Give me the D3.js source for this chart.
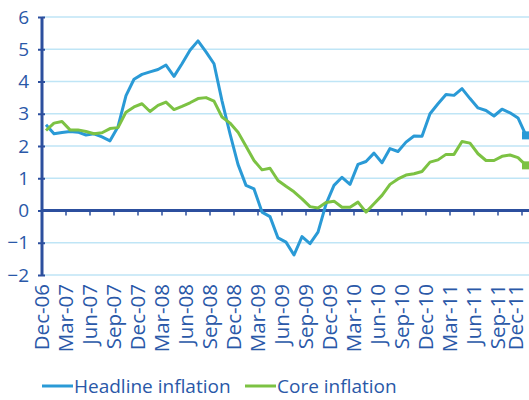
<!DOCTYPE html>
<html>
<head>
<meta charset="utf-8">
<script src="https://cdn.jsdelivr.net/npm/d3@7"></script>
<style>
  body { margin: 0; background: #fff; }
  svg { display: block; font-family: "Open Sans", sans-serif; }
</style>
</head>
<body>
<svg></svg>
<script>
// monthly data, Dec-06 .. Dec-11
const months = d3.range(61).map(i => d3.timeMonth.offset(new Date(2006, 11, 1), i));

const headline = [2.66, 2.38, 2.42, 2.45, 2.43, 2.34, 2.38, 2.28, 2.16, 2.6,
  3.56, 4.07, 4.22, 4.3, 4.37, 4.51, 4.16, 4.55, 4.97, 5.26,
  4.92, 4.55, 3.4, 2.38, 1.43, 0.78, 0.67, -0.05, -0.19, -0.85,
  -0.98, -1.38, -0.81, -1.03, -0.67, 0.2, 0.78, 1.03, 0.81, 1.43,
  1.52, 1.78, 1.48, 1.92, 1.83, 2.12, 2.31, 2.3, 3.0, 3.31,
  3.6, 3.57, 3.78, 3.47, 3.18, 3.1, 2.93, 3.14, 3.03, 2.87, 2.33];

const core = [2.48, 2.71, 2.76, 2.5, 2.5, 2.45, 2.38, 2.41, 2.54, 2.57,
  3.05, 3.21, 3.31, 3.07, 3.26, 3.36, 3.13, 3.23, 3.34, 3.47,
  3.5, 3.39, 2.9, 2.71, 2.43, 1.99, 1.55, 1.26, 1.31, 0.93,
  0.75, 0.58, 0.36, 0.12, 0.08, 0.25, 0.29, 0.1, 0.1, 0.26,
  -0.05, 0.21, 0.47, 0.81, 0.98, 1.1, 1.14, 1.21, 1.5, 1.57,
  1.74, 1.74, 2.14, 2.09, 1.76, 1.55, 1.55, 1.68, 1.72, 1.64, 1.4];

const yTicks = [-2, -1, 0, 1, 2, 3, 4, 5, 6];

const series = [
  { name: "Headline inflation", values: headline, color: "#2a9ad6" },
  { name: "Core inflation", values: core, color: "#7cc243" }
];

const width = 529, height = 400;
const textColor = "#2a58a8";
const axisColor = "#2c4f9e";
const gridColor = "#bfe5f6";

const svg = d3.select("svg").attr("width", width).attr("height", height);

// category band scale: each month is one slot, 8px wide
const x = d3.scaleBand().domain(months).range([42, 530]).paddingInner(0);
const y = d3.scaleLinear().domain([-2, 6]).range([275, 17]);

// gridlines
svg.append("g")
  .selectAll("line")
  .data(yTicks.filter(d => d !== 0))
  .join("line")
  .attr("x1", 42).attr("x2", width)
  .attr("y1", d => y(d)).attr("y2", d => y(d))
  .attr("stroke", gridColor).attr("stroke-width", 1.5);

// y axis
const yAxis = svg.append("g")
  .attr("transform", "translate(42,0)")
  .call(d3.axisLeft(y).tickValues(yTicks).tickSize(4).tickPadding(9)
    .tickFormat(d3.format("d")));
yAxis.select(".domain").attr("stroke", axisColor).attr("stroke-width", 3)
  .attr("d", `M0,${y(6)}V${y(-2)}`);
yAxis.selectAll(".tick line").attr("stroke", axisColor).attr("stroke-width", 2)
  .attr("x1", 3);
yAxis.selectAll(".tick text").attr("fill", textColor)
  .style("font-size", "19px").style("font-family", "Open Sans, sans-serif");

// zero line with quarterly ticks
const quarterStarts = months.filter((d, i) => i % 3 === 0);
const xAxis = svg.append("g")
  .attr("transform", `translate(0,${y(0)})`)
  .call(d3.axisBottom(x).tickValues(quarterStarts).tickSize(5).tickFormat(""));
xAxis.select(".domain").attr("stroke", axisColor).attr("stroke-width", 3)
  .attr("d", `M42,0H${width}`);
xAxis.selectAll(".tick")
  .attr("transform", d => `translate(${x(d)},0)`);
xAxis.selectAll(".tick line").attr("stroke", axisColor).attr("stroke-width", 1.5);

// category labels, rotated
const fmt = d3.timeFormat("%b-%y");
svg.append("g")
  .selectAll("text")
  .data(quarterStarts)
  .join("text")
  .attr("transform", d => `translate(${Math.min(x(d), 516)},284) rotate(-90)`)
  .attr("text-anchor", "end")
  .attr("dy", "0.36em")
  .attr("fill", textColor)
  .style("font-size", "20.5px")
  .text(d => fmt(d));

// lines
const line = d3.line()
  .x((d, i) => x(months[i]) + x.bandwidth() / 2)
  .y(d => y(d));

svg.append("g")
  .selectAll("path")
  .data(series)
  .join("path")
  .attr("d", d => line(d.values))
  .attr("fill", "none")
  .attr("stroke", d => d.color)
  .attr("stroke-width", 3)
  .attr("stroke-linejoin", "round");

// end markers
svg.append("g")
  .selectAll("rect")
  .data(series)
  .join("rect")
  .attr("x", x(months[60]) + x.bandwidth() / 2 - 4)
  .attr("y", d => y(d.values[60]) - 4)
  .attr("width", 8).attr("height", 8)
  .attr("fill", d => d.color);

// legend
const legendX = [42, 245];
const legend = svg.append("g")
  .selectAll("g")
  .data(series)
  .join("g")
  .attr("transform", (d, i) => `translate(${legendX[i]},386)`);
legend.append("line")
  .attr("x1", 0).attr("x2", 31)
  .attr("stroke", d => d.color).attr("stroke-width", 3);
legend.append("text")
  .attr("x", 32).attr("dy", "0.35em")
  .attr("fill", textColor)
  .style("font-size", "19px")
  .text(d => d.name);
</script>
</body>
</html>
